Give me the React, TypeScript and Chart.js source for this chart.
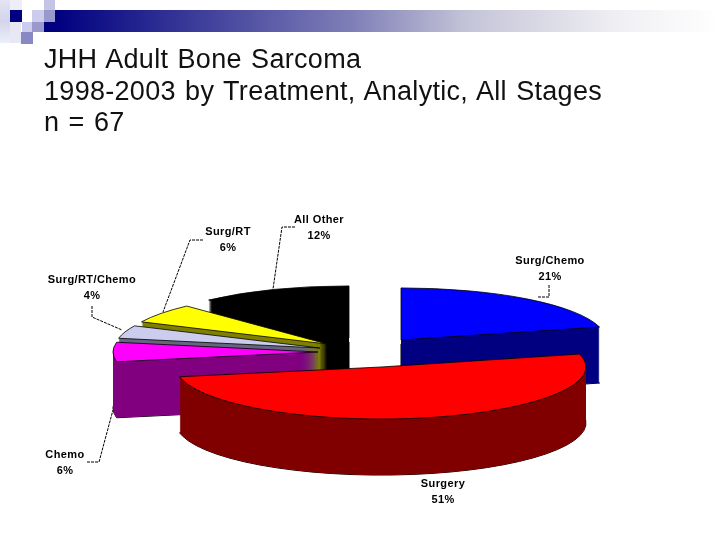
import { useEffect, useRef } from 'react';
import { Chart, PieController, ArcElement, type Plugin } from 'chart.js';

Chart.register(PieController, ArcElement);

const titleLines = [
  'JHH Adult Bone Sarcoma',
  '1998-2003 by Treatment, Analytic, All Stages',
  'n = 67',
];

const categories = ['Surg/Chemo', 'Surgery', 'Chemo', 'Surg/RT/Chemo', 'Surg/RT', 'All Other'];
const percents = [21, 51, 6, 4, 6, 12];

const topColors = ['#0000ff', '#ff0000', '#ff00ff', '#ccccee', '#ffff00', '#000000'];
const sideColors = ['#000080', '#800000', '#800080', '#666680', '#808000', '#000000'];

// where each exploded slice has its tip, in page pixels
const sliceTips = [[401, 340], [381, 367], [318, 352], [320, 348], [327, 344], [349, 338]];
// back to front
const paintOrder = [5, 4, 3, 2, 0, 1];

const RADIUS = 205;
const SQUASH = 0.254;
const DEPTH = 56;

const labelSpots = [[550, 261], [443, 484], [65, 455], [92, 280], [228, 232], [319, 220]];
const leaders = [
  [[549, 285], [549, 297], [538, 297]],
  [],
  [[87, 462], [99, 462], [113, 410]],
  [[92, 306], [92, 317], [122, 330]],
  [[203, 240], [190, 240], [163, 312]],
  [[295, 227], [282, 227], [273, 289]],
];

function sector(ctx: CanvasRenderingContext2D, x: number, y: number, start: number, end: number) {
  ctx.beginPath();
  ctx.moveTo(x, y);
  ctx.ellipse(x, y, RADIUS, RADIUS * SQUASH, 0, start, end);
  ctx.closePath();
}

// chart.js lays out the angles, this only tilts and extrudes them
const tiltedPie: Plugin<'pie'> = {
  id: 'tiltedPie',
  beforeDatasetDraw(chart) {
    const { ctx } = chart;
    const arcs = chart.getDatasetMeta(0).data as any[];
    for (const i of paintOrder) {
      const arc = arcs[i];
      const [x, y] = sliceTips[i];
      const { startAngle, endAngle } = arc.getProps(['startAngle', 'endAngle'], true);

      ctx.save();
      ctx.lineWidth = 1;
      ctx.strokeStyle = '#000';
      sector(ctx, x, y + DEPTH, startAngle, endAngle);
      ctx.stroke();
      ctx.fillStyle = sideColors[i];
      for (let d = DEPTH; d > 0; d--) {
        sector(ctx, x, y + d, startAngle, endAngle);
        ctx.fill();
      }
      ctx.restore();

      ctx.save();
      ctx.translate(x, y);
      ctx.scale(1, SQUASH);
      ctx.translate(-arc.x, -arc.y);
      arc.draw(ctx);
      ctx.restore();

      ctx.save();
      ctx.lineWidth = 0.8;
      ctx.strokeStyle = '#000';
      sector(ctx, x, y, startAngle, endAngle);
      ctx.stroke();
      ctx.restore();
    }
    return false;
  },
  afterDraw(chart) {
    const { ctx } = chart;
    ctx.save();
    ctx.strokeStyle = '#000';
    ctx.lineWidth = 1;
    ctx.setLineDash([3, 1]);
    leaders.forEach((pts) => {
      if (!pts.length) return;
      ctx.beginPath();
      pts.forEach(([x, y], k) => (k ? ctx.lineTo(x, y) : ctx.moveTo(x, y)));
      ctx.stroke();
    });
    ctx.setLineDash([]);
    ctx.fillStyle = '#000';
    ctx.font = 'bold 11px "Liberation Sans", Arial, sans-serif';
    (ctx as any).letterSpacing = '0.4px';
    ctx.textAlign = 'center';
    ctx.textBaseline = 'middle';
    categories.forEach((name, i) => {
      const [x, y] = labelSpots[i];
      ctx.fillText(name, x, y);
      ctx.fillText(`${percents[i]}%`, x, y + 16);
    });
    ctx.restore();
  },
};

function Header() {
  const box = (left: number, top: number, width: number, height: number, background: string) => (
    <div style={{ position: 'absolute', left, top, width, height, background }} />
  );
  return (
    <>
      {box(0, 0, 10, 43, 'linear-gradient(180deg,#e4e4f4,#d4d4ec 50%,#ecf0f8)')}
      {box(10, 0, 12, 10, '#eeeef8')}
      {box(10, 22, 11, 21, '#e8e8f4')}
      {box(10, 10, 12, 12, '#000080')}
      {box(32, 10, 12, 12, '#ccccee')}
      {box(44, 0, 11, 10, '#c4c4e4')}
      {box(44, 10, 11, 12, '#9999cc')}
      {box(22, 22, 10, 10, '#ccccee')}
      {box(32, 22, 12, 10, '#9999cc')}
      {box(21, 32, 12, 12, '#8888c4')}
      {box(44, 22, 11, 10, '#000080')}
      {box(55, 10, 665, 22, 'linear-gradient(90deg,#000080,#1c1c8c 10%,#8080b8 45%,#c4c4d8 62%,#f0f0f4 85%,#ffffff 100%)')}
    </>
  );
}

export default function App() {
  const ref = useRef<HTMLCanvasElement>(null);

  useEffect(() => {
    if (!ref.current) return;
    const chart = new Chart(ref.current, {
      type: 'pie',
      data: {
        labels: categories,
        datasets: [{ data: percents, backgroundColor: topColors, borderWidth: 0 }],
      },
      options: {
        responsive: false,
        animation: false,
        radius: RADIUS,
        devicePixelRatio: 1,
        plugins: { legend: { display: false }, tooltip: { enabled: false } },
      } as any,
      plugins: [tiltedPie],
    });
    return () => chart.destroy();
  }, []);

  return (
    <div style={{ position: 'absolute', left: 0, top: 0, width: 720, height: 540, overflow: 'hidden', background: '#fff' }}>
      <canvas ref={ref} width={720} height={540} style={{ position: 'absolute', left: 0, top: 0 }} />
      <Header />
      <div
        style={{
          position: 'absolute', left: 44, top: 44,
          fontFamily: '"Liberation Sans", Arial, sans-serif',
          fontSize: 27, lineHeight: '31.5px', color: '#111', whiteSpace: 'nowrap',
          letterSpacing: 0.3, wordSpacing: 1.5,
        }}
      >
        {titleLines.map((t) => <div key={t}>{t}</div>)}
      </div>
    </div>
  );
}
